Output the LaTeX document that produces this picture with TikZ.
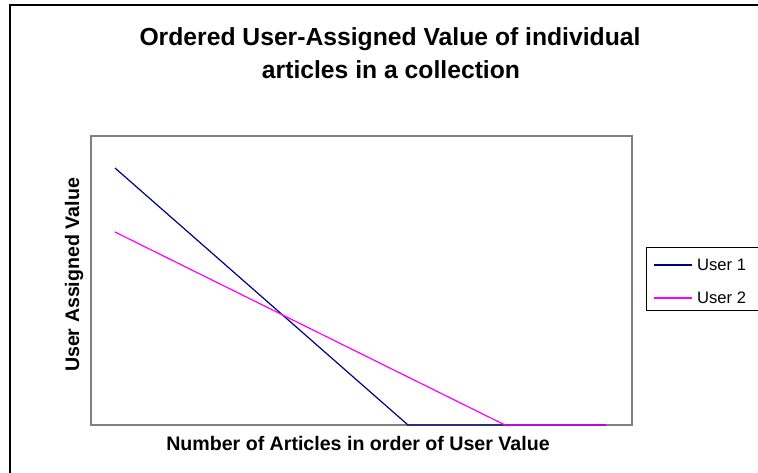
\documentclass[tikz,border=0pt]{standalone}
\usepackage{fontspec}
\setmainfont{Liberation Sans}
\usetikzlibrary{positioning,calc}
\definecolor{usernavy}{RGB}{0,0,128}
\definecolor{usermagenta}{RGB}{255,0,255}
\definecolor{areagray}{RGB}{128,128,128}

\begin{document}
\begin{tikzpicture}[x=1pt,y=-1pt,
  chartframe/.style={draw=black,line width=1.6pt},
  plotarea/.style={draw=areagray,line width=1.4pt},
  titletext/.style={font=\bfseries\fontsize{24.7}{30}\selectfont,anchor=base,inner sep=0pt},
  axislabel/.style={font=\bfseries\fontsize{19.6}{23}\selectfont,anchor=base,inner sep=0pt},
  legendtext/.style={font=\fontsize{16.6}{20}\selectfont,anchor=base west,inner sep=0pt},
  userone/.style={draw=usernavy,line width=1.2pt},
  usertwo/.style={draw=usermagenta,line width=1.2pt}]
\useasboundingbox (0,0) rectangle (758,473);
\clip (0,0) rectangle (758,473);
\draw[chartframe] (10,5) rectangle (800,500);
% titles
\node[titletext] (title1) at (390,46) {Ordered User-Assigned Value of individual};
\node[titletext] (title2) at (391,79) {articles in a collection};
% plot area
\coordinate (pa-sw) at (91,425);
\coordinate (pa-ne) at (632,136);
\draw[plotarea] (pa-sw) rectangle (pa-ne);
\node[axislabel] (xlabel) at (358,450) {Number of Articles in order of User Value};
\node[axislabel,rotate=90] (ylabel) at (79,275) {User Assigned Value};
% data
\coordinate (u1-start) at (115,168);
\coordinate (u1-zero) at (408,425);
\coordinate (u2-start) at (115,232);
\coordinate (u2-zero) at (505,425);
\coordinate (x-end) at (606,425);
\draw[userone] (u1-start) -- (u1-zero) -- (x-end);
\draw[usertwo] (u2-start) -- (u2-zero) -- (x-end);
% legend
\draw[black,line width=0.9pt] (646,247) rectangle (800,310);
\coordinate (leg1-a) at (654,265);
\coordinate (leg1-b) at (692,265);
\coordinate (leg2-a) at (654,298);
\coordinate (leg2-b) at (692,298);
\draw[userone] (leg1-a) -- (leg1-b);
\draw[usertwo] (leg2-a) -- (leg2-b);
\node[legendtext,right=5pt of leg1-b,anchor=west] (leg1) {User 1};
\node[legendtext,right=5pt of leg2-b,anchor=west] (leg2) {User 2};
\end{tikzpicture}
\end{document}
